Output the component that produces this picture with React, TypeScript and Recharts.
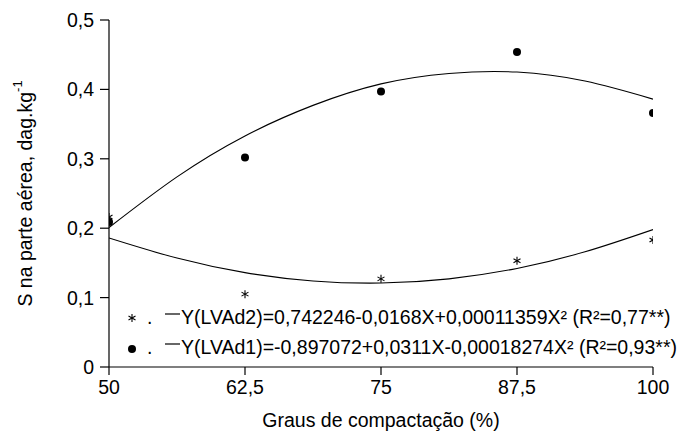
import React from "react";
import { ComposedChart, Line, Scatter, XAxis, YAxis } from "recharts";

const xTicks = [50, 62.5, 75, 87.5, 100];
const yTicks = [0, 0.1, 0.2, 0.3, 0.4, 0.5];

// observed points
const lvad1Points = [
  { x: 50, y: 0.209 },
  { x: 62.5, y: 0.302 },
  { x: 75, y: 0.397 },
  { x: 87.5, y: 0.454 },
  { x: 100, y: 0.366 },
];
const lvad2Points = [
  { x: 50, y: 0.216 },
  { x: 62.5, y: 0.105 },
  { x: 75, y: 0.127 },
  { x: 87.5, y: 0.153 },
  { x: 100, y: 0.183 },
];

// fitted curves
const lvad1Curve = [
  { x: 50, y: 0.201 },
  { x: 56.25, y: 0.274 },
  { x: 62.5, y: 0.333 },
  { x: 68.75, y: 0.377 },
  { x: 75, y: 0.408 },
  { x: 81.25, y: 0.423 },
  { x: 87.5, y: 0.425 },
  { x: 93.75, y: 0.412 },
  { x: 100, y: 0.386 },
];
const lvad2Curve = [
  { x: 50, y: 0.186 },
  { x: 56.25, y: 0.157 },
  { x: 62.5, y: 0.136 },
  { x: 68.75, y: 0.124 },
  { x: 75, y: 0.121 },
  { x: 81.25, y: 0.127 },
  { x: 87.5, y: 0.142 },
  { x: 93.75, y: 0.166 },
  { x: 100, y: 0.198 },
];

const legendLabels = [
  "Y(LVAd2)=0,742246-0,0168X+0,00011359X² (R²=0,77**)",
  "Y(LVAd1)=-0,897072+0,0311X-0,00018274X² (R²=0,93**)",
];
const xTitle = "Graus de compactação (%)";
const yTitle = "S na parte aérea, dag.kg";
const yTitleSup = "-1";

const FONT = "'Liberation Sans', Arial, sans-serif";
const FS = 19.5;

const fmt = (v: number) => String(v).replace(".", ",");

const StarShape = (props: any) => {
  const { cx, cy } = props;
  if (cx == null || cy == null) return null;
  const r = 4;
  return (
    <g stroke="#000" strokeWidth={1.1}>
      <line x1={cx} y1={cy - r} x2={cx} y2={cy + r} />
      <line x1={cx - 3.5} y1={cy - 2} x2={cx + 3.5} y2={cy + 2} />
      <line x1={cx - 3.5} y1={cy + 2} x2={cx + 3.5} y2={cy - 2} />
    </g>
  );
};

const DotShape = (props: any) => {
  const { cx, cy } = props;
  if (cx == null || cy == null) return null;
  return <circle cx={cx} cy={cy} r={4} fill="#000" />;
};

const YLabel = (props: any) => {
  const vb = props.viewBox || {};
  const cx = 25;
  const cy = vb.y + vb.height / 2;
  return (
    <text
      x={cx}
      y={cy}
      transform={`rotate(-90, ${cx}, ${cy})`}
      textAnchor="middle"
      dominantBaseline="central"
      fontFamily={FONT}
      fontSize={FS}
      fill="#000"
    >
      <tspan>{yTitle}</tspan>
      <tspan dy={-8} fontSize={13}>{yTitleSup}</tspan>
    </text>
  );
};

const XLabel = (props: any) => {
  const vb = props.viewBox || {};
  return (
    <text
      x={vb.x + vb.width / 2}
      y={427}
      textAnchor="middle"
      fontFamily={FONT}
      fontSize={FS}
      fill="#000"
    >
      {xTitle}
    </text>
  );
};

const tickStyle = { fontFamily: FONT, fontSize: FS, fill: "#000" };

export default function App() {
  return (
    <div style={{ position: "absolute", left: 0, top: 0, width: 690, height: 437, background: "#fff" }}>
      <ComposedChart
        width={690}
        height={437}
        margin={{ top: 20, right: 37, bottom: 0, left: 0 }}
      >
        <XAxis
          type="number"
          dataKey="x"
          domain={[50, 100]}
          ticks={xTicks}
          tickFormatter={fmt}
          tick={tickStyle}
          tickSize={8}
          tickMargin={5}
          stroke="#000"
          axisLine={{ stroke: "#000", strokeWidth: 1.2 }}
          tickLine={{ stroke: "#000", strokeWidth: 1.2 }}
          height={70}
          allowDataOverflow
          label={<XLabel />}
        />
        <YAxis
          type="number"
          dataKey="y"
          domain={[0, 0.5]}
          ticks={yTicks}
          tickFormatter={fmt}
          tick={tickStyle}
          tickSize={9}
          tickMargin={6}
          width={109}
          axisLine={{ stroke: "#000", strokeWidth: 1.2 }}
          tickLine={{ stroke: "#000", strokeWidth: 1.2 }}
          allowDataOverflow
          label={<YLabel />}
        />
        <Line
          data={lvad1Curve}
          dataKey="y"
          type="natural"
          stroke="#000"
          strokeWidth={1.1}
          dot={false}
          activeDot={false}
          isAnimationActive={false}
        />
        <Line
          data={lvad2Curve}
          dataKey="y"
          type="natural"
          stroke="#000"
          strokeWidth={1.1}
          dot={false}
          activeDot={false}
          isAnimationActive={false}
        />
        <Scatter data={lvad1Points} dataKey="y" shape={<DotShape />} isAnimationActive={false} />
        <Scatter data={lvad2Points} dataKey="y" shape={<StarShape />} isAnimationActive={false} />
      </ComposedChart>
      <div
        style={{
          position: "absolute",
          left: 0,
          top: 303,
          width: 690,
          fontFamily: FONT,
          fontSize: FS,
          color: "#000",
          whiteSpace: "nowrap",
        }}
      >
        {legendLabels.map((label, i) => (
          <div key={i} style={{ position: "relative", height: 30 }}>
            <svg width={14} height={14} style={{ position: "absolute", left: 125, top: 8 }}>
              {i === 0 ? (
                <StarShape cx={7} cy={7} />
              ) : (
                <circle cx={7} cy={8} r={4} fill="#000" />
              )}
            </svg>
            <span style={{ position: "absolute", left: 147, top: 3 }}>.</span>
            <svg width={20} height={14} style={{ position: "absolute", left: 163, top: 6 }}>
              <line x1={2} y1={5} x2={17} y2={5} stroke="#000" strokeWidth={1.2} />
            </svg>
            <span style={{ position: "absolute", left: 181, top: 3 }}>{label}</span>
          </div>
        ))}
      </div>
    </div>
  );
}
